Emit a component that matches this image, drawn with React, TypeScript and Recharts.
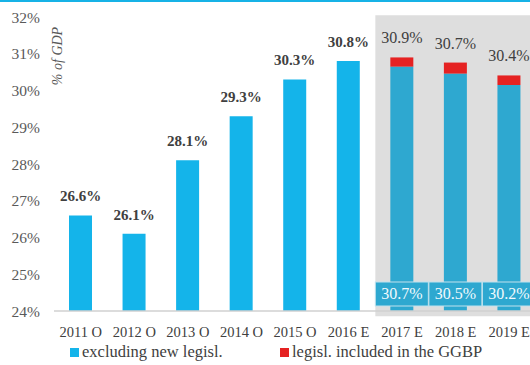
import React from 'react';
import { BarChart, Bar, XAxis, YAxis, ReferenceArea, LabelList, Legend, Cell } from 'recharts';

const categories = ['2011 O', '2012 O', '2013 O', '2014 O', '2015 O', '2016 E', '2017 E', '2018 E', '2019 E'];
const excludingNewLegisl = [26.6, 26.1, 28.1, 29.3, 30.3, 30.8, 30.65, 30.46, 30.15];
const legislIncluded = [0, 0, 0, 0, 0, 0, 0.25, 0.3, 0.26];
const totalLabels = ['26.6%', '26.1%', '28.1%', '29.3%', '30.3%', '30.8%', '30.9%', '30.7%', '30.4%'];
const innerLabels = ['', '', '', '', '', '', '30.7%', '30.5%', '30.2%'];
const yTicks = [24, 25, 26, 27, 28, 29, 30, 31, 32];
const forecastStart = '2017 E';
const forecastEnd = '2019 E';

const data = categories.map((c, i) => ({
  cat: c,
  excl: excludingNewLegisl[i],
  legis: legislIncluded[i],
  topExcl: legislIncluded[i] > 0 ? '' : totalLabels[i],
  topLegis: legislIncluded[i] > 0 ? totalLabels[i] : '',
  inner: innerLabels[i],
  forecast: c.endsWith('E') && c >= forecastStart,
}));

const FONT = '"Liberation Serif", "DejaVu Serif", serif';
const BLUE = '#14b4ea';
const BLUE_F = '#2ea8d0';
const RED = '#e52222';

const makeTopLabel = (bold: boolean) => (props: any) => {
  const { x, y, width, value } = props;
  if (!value) return null;
  return (
    <text
      x={x + width / 2}
      y={y - 14}
      textAnchor="middle"
      fontFamily={FONT}
      fontSize={bold ? 15 : 16}
      fontWeight={bold ? 'bold' : 'normal'}
      fill="#404040"
    >
      {value}
    </text>
  );
};
const TopLabelBold = makeTopLabel(true);
const TopLabelNormal = makeTopLabel(false);

const InnerLabel = (props: any) => {
  const { x, y, width, height, value } = props;
  if (!value) return null;
  const cx = x + width / 2;
  const bottom = y + height;
  return (
    <g>
      <rect x={cx - 26.5} y={bottom - 29} width={53} height={24} fill={BLUE_F} stroke="#bfe2ee" strokeWidth={1} />
      <text x={cx} y={bottom - 12} textAnchor="middle" fontFamily={FONT} fontSize={16} fill="#f2fafd">
        {value}
      </text>
    </g>
  );
};

const AxisTitle = () => (
  <text
    x={62}
    y={56}
    transform="rotate(-90, 62, 56)"
    textAnchor="middle"
    fontFamily={FONT}
    fontStyle="italic"
    fontSize={14}
    fill="#595959"
  >
    % of GDP
  </text>
);

const LegendContent = () => (
  <div style={{ position: 'relative', width: 530, height: 20, fontFamily: FONT, fontSize: 16.5, color: '#404040' }}>
    <div style={{ position: 'absolute', left: 70, top: 5, width: 9, height: 9, background: BLUE }} />
    <span style={{ position: 'absolute', left: 82, top: -1, whiteSpace: 'nowrap' }}>excluding new legisl.</span>
    <div style={{ position: 'absolute', left: 280, top: 5, width: 9, height: 9, background: RED }} />
    <span style={{ position: 'absolute', left: 292, top: -1, whiteSpace: 'nowrap' }}>legisl. included in the GGBP</span>
  </div>
);

export default function App() {
  return (
    <div style={{ position: 'absolute', left: 0, top: 0, width: 530, height: 365, overflow: 'hidden', background: '#fff' }}>
      <div style={{ position: 'absolute', left: 0, top: 0, width: 530, height: 2, background: '#17b2e6', zIndex: 2 }} />
      <BarChart
        width={540}
        height={365}
        data={data}
        margin={{ top: 17, right: 4, left: 0, bottom: 0 }}
      >
        <ReferenceArea
          x1={forecastStart}
          x2={forecastEnd}
          y1={23.86}
          y2={32.05}
          fill="#dedede"
          fillOpacity={1}
          stroke="none"
          ifOverflow="visible"
        />
        <XAxis
          dataKey="cat"
          height={54}
          tickLine={false}
          tickSize={0}
          tickMargin={16}
          axisLine={{ stroke: '#d0d0d0', strokeWidth: 1.5 }}
          tick={{ fontFamily: FONT, fontSize: 14.5, fill: '#404040' }}
          interval={0}
        />
        <YAxis
          domain={[24, 32]}
          ticks={yTicks}
          width={54}
          tickLine={false}
          axisLine={false}
          tickSize={0}
          tickMargin={14}
          tickFormatter={(v: number) => `${v}%`}
          tick={{ fontFamily: FONT, fontSize: 15.5, fill: '#595959' }}
          allowDataOverflow
          label={<AxisTitle />}
        />
        <Legend
          layout="horizontal"
          verticalAlign="middle"
          align="center"
          wrapperStyle={{ top: 343, left: 0, width: 530, height: 20 }}
          content={<LegendContent />}
        />
        <Bar dataKey="excl" stackId="a" barSize={23} isAnimationActive={false} name="excluding new legisl.">
          {data.map((d, i) => (
            <Cell key={i} fill={d.forecast ? BLUE_F : BLUE} />
          ))}
          <LabelList dataKey="inner" content={<InnerLabel />} />
          <LabelList dataKey="topExcl" content={<TopLabelBold />} />
        </Bar>
        <Bar dataKey="legis" stackId="a" barSize={23} fill={RED} isAnimationActive={false} name="legisl. included in the GGBP">
          <LabelList dataKey="topLegis" content={<TopLabelNormal />} />
        </Bar>
      </BarChart>
    </div>
  );
}
